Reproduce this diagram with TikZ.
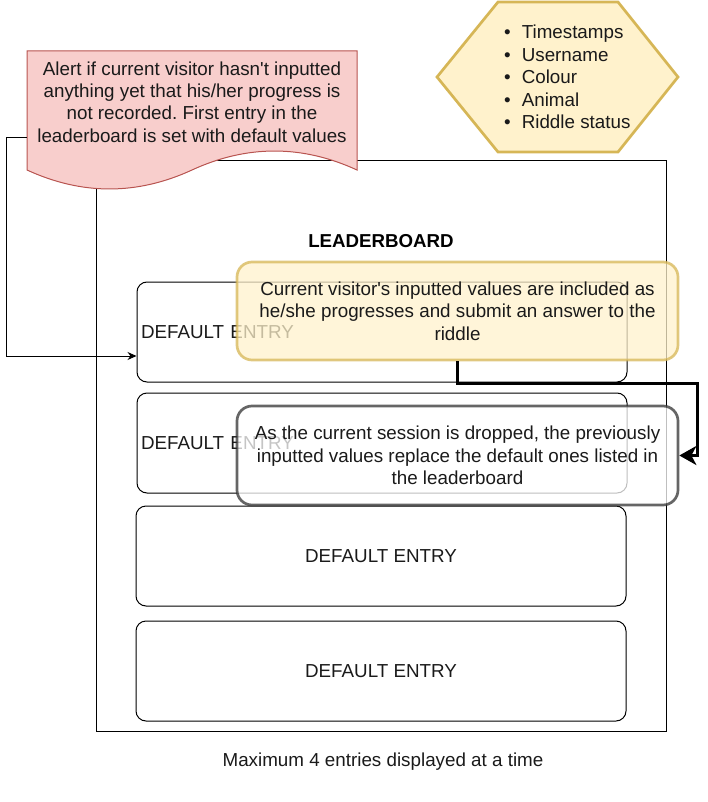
\documentclass[tikz,border=0pt]{standalone}
\usepackage{fontspec}
\setmainfont{Liberation Sans}
\usetikzlibrary{arrows.meta}

\definecolor{notefill}{HTML}{F8CECC}
\definecolor{noteline}{HTML}{B85450}
\definecolor{hexfill}{HTML}{FFF2CC}
\definecolor{hexline}{HTML}{D6B656}
\definecolor{dropline}{HTML}{333333}
\definecolor{ink}{HTML}{1A1A1A}

\frenchspacing

\begin{document}
\begin{tikzpicture}[x=1pt, y=-1pt, font=\fontsize{18.8}{22.4}\selectfont, text=ink,
		entry/.style={draw, line width=1pt, rounded corners=10pt, minimum width=490pt, minimum height=100pt, inner sep=4pt},
		entryleft/.style={entry, text width=482pt, align=left},
		overlay/.style={line width=2.7pt, rounded corners=15pt, minimum width=441pt, minimum height=98pt, align=center, opacity=0.75, text opacity=1},
		link/.style={line width=1pt, -{Stealth[length=9pt,width=8pt]}}
	]
		\useasboundingbox (0, 0) rectangle (708, 802);

		% leaderboard frame
		\draw[line width=1pt]	(96, 161) rectangle (666, 731);
		\node[font=\fontsize{18.7}{22.4}\selectfont\bfseries, text=black] (title) at (381, 241) {LEADERBOARD};

		\node[entryleft] (entry1) at (382, 332) {DEFAULT ENTRY};
		\node[entryleft] (entry2) at (382, 443) {DEFAULT ENTRY};
		\node[entry] (entry3) at (381, 556) {DEFAULT ENTRY};
		\node[entry] (entry4) at (381, 671) {DEFAULT ENTRY};

		% alert note
		\filldraw[fill=notefill, draw=noteline, line width=1pt]	(27, 51) -- (357, 51) -- (357, 170)
							.. controls (302, 144.7) and (247, 144.7) .. (192, 170)
							.. controls (137, 195.3) and (82, 195.3) .. (27, 170) -- cycle;
		\node[minimum width=330pt, inner sep=0pt, align=center] (alert) at (192, 102)
			{Alert if current visitor hasn\textquotesingle t inputted\\anything yet that his/her progress is\\not recorded. First entry in the\\leaderboard is set with default values};

		% stored fields
		\filldraw[fill=hexfill, draw=hexline, line width=2.7pt]	(437, 77) -- (498, 2) -- (618, 2) -- (678, 77) -- (618, 152) -- (498, 152) -- cycle;
		\node[anchor=west, inner sep=0pt, align=left] (fields) at (504, 77)
			{\textbullet\hspace{11pt}Timestamps\\\textbullet\hspace{11pt}Username\\\textbullet\hspace{11pt}Colour\\\textbullet\hspace{11pt}Animal\\\textbullet\hspace{11pt}Riddle status};

		% session boxes
		\node[overlay, fill=hexfill, draw=hexline] (current) at (457.5, 311)
			{Current visitor\textquotesingle s inputted values are included as\\he/she progresses and submit an answer to the\\riddle};
		\node[overlay, fill=white, draw=dropline, minimum height=99pt] (dropped) at (457.5, 455.5)
			{As the current session is dropped, the previously\\inputted values replace the default ones listed in\\the leaderboard};

		\coordinate (bend) at (697, 383);
		\draw[line width=3pt, -{Stealth[length=17pt,width=19pt,inset=5pt]}]	(current.south) |- (bend) |- (dropped.east);
		\draw[link]	([yshift=-36pt]alert.west) -- ++(-20, 0) |- ([yshift=-24pt]entry1.west);

		\node (caption) at (383, 762) {Maximum 4 entries displayed at a time};
	\end{tikzpicture}
\end{document}
